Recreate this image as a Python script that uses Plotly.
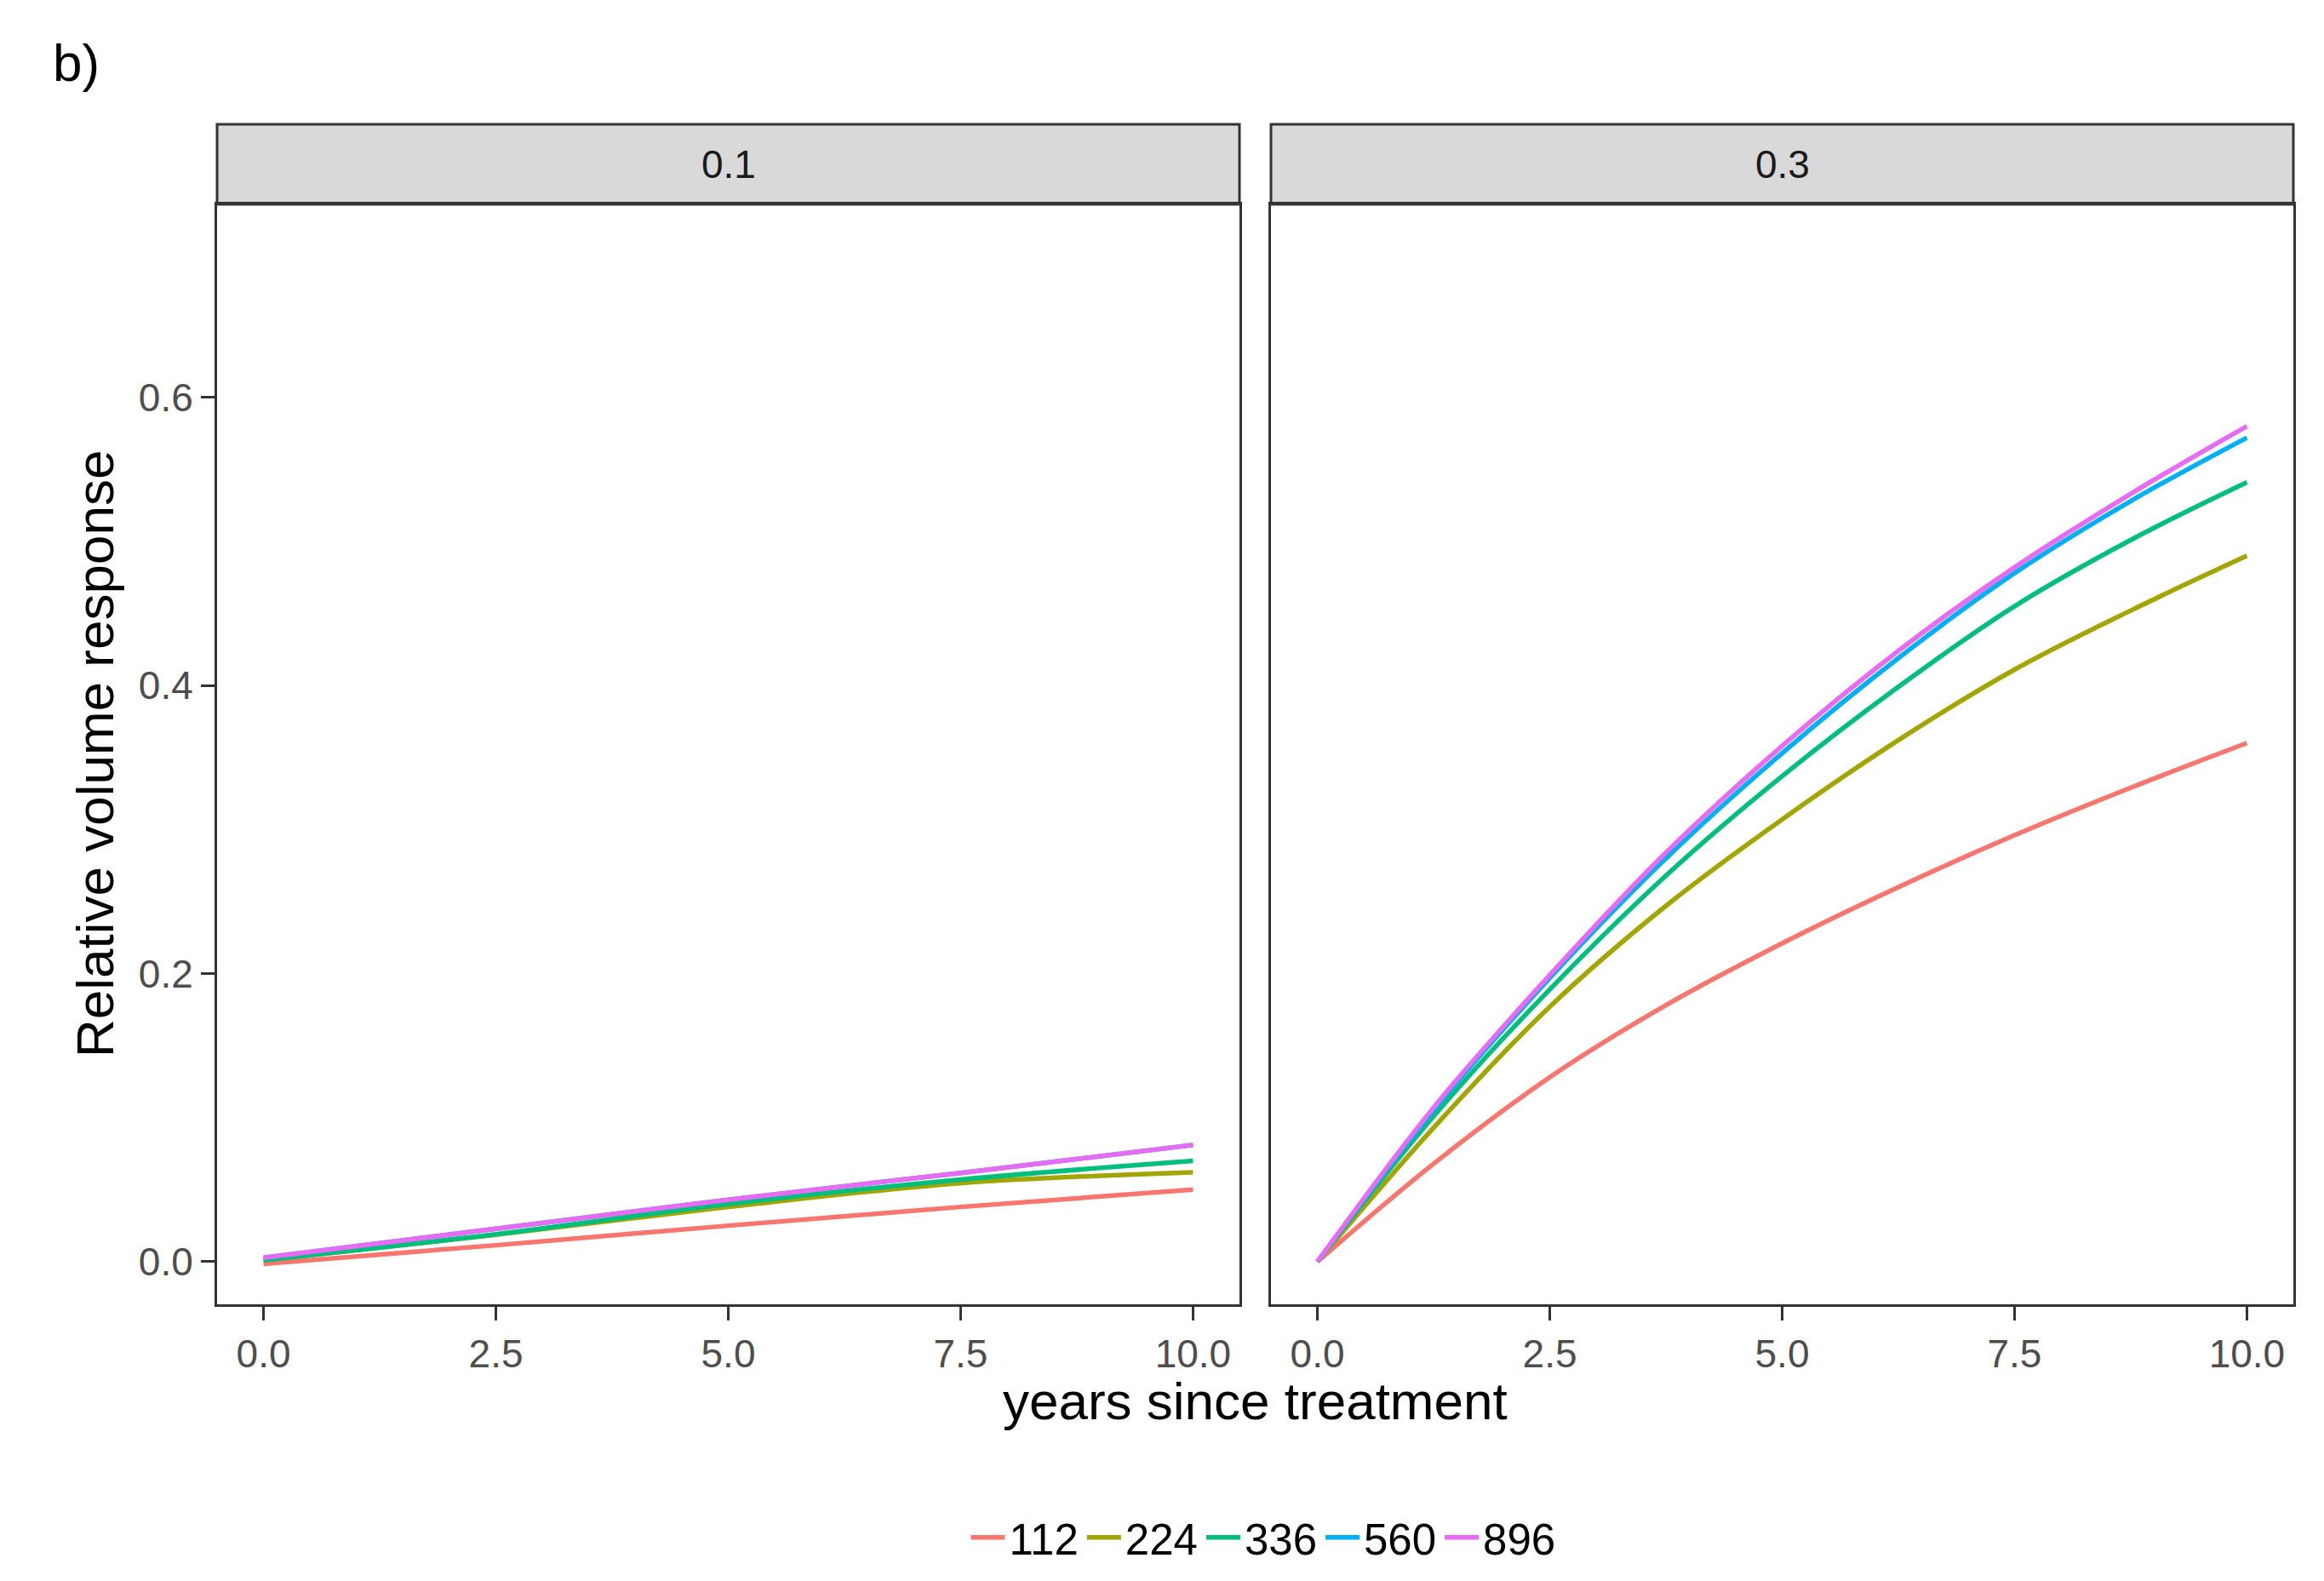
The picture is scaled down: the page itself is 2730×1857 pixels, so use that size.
import plotly.graph_objects as go

# ---------------- data ----------------
groups = ["112", "224", "336", "560", "896"]
colors = ["#F8766D", "#A3A500", "#00BF7D", "#00B0F6", "#E76BF3"]
facets = ["0.1", "0.3"]

years_01 = [0, 2.5, 5, 7.5, 10]
resp_01_112 = [-0.0015, 0.0114, 0.025, 0.038, 0.050]
resp_01_224 = [0.001, 0.0187, 0.038, 0.0545, 0.062]
resp_01_336 = [0.001, 0.019, 0.040, 0.057, 0.070]
resp_01_560 = [0.0027, 0.0228, 0.043, 0.0616, 0.081]
resp_01_896 = [0.0027, 0.0228, 0.043, 0.0616, 0.081]

years_03 = [0, 1.25, 2.5, 3.75, 5, 6.25, 7.5, 8.75, 10]
resp_03_112 = [0, 0.068, 0.128, 0.178, 0.221, 0.260, 0.296, 0.329, 0.360]
resp_03_224 = [0, 0.093, 0.177, 0.247, 0.307, 0.362, 0.411, 0.452, 0.490]
resp_03_336 = [0, 0.101, 0.189, 0.268, 0.337, 0.399, 0.455, 0.501, 0.541]
resp_03_560 = [0, 0.105, 0.197, 0.280, 0.353, 0.419, 0.478, 0.528, 0.572]
resp_03_896 = [0, 0.107, 0.199, 0.284, 0.358, 0.424, 0.482, 0.533, 0.580]

x_ticks = [0, 2.5, 5, 7.5, 10]
y_ticks = [0.0, 0.2, 0.4, 0.6]

series_01 = [resp_01_112, resp_01_224, resp_01_336, resp_01_560, resp_01_896]
series_03 = [resp_03_112, resp_03_224, resp_03_336, resp_03_560, resp_03_896]

# ---------------- figure ----------------
W, H = 2730, 1857
OFF = 8  # page body margin
FONT = "Liberation Sans, Arial, sans-serif"
DARK = "#333333"


def px(xp):
    return (xp - OFF) / W


def py(yp):
    return 1 - (yp - OFF) / H


fig = go.Figure()
for g, c, y1, y3 in zip(groups, colors, series_01, series_03):
    fig.add_trace(go.Scatter(x=years_01, y=y1, mode="lines", name=g,
                             legendgroup=g, showlegend=True,
                             line=dict(color=c, width=5.5, shape="spline"),
                             xaxis="x", yaxis="y"))
    fig.add_trace(go.Scatter(x=years_03, y=y3, mode="lines", name=g,
                             legendgroup=g, showlegend=False,
                             line=dict(color=c, width=5.5, shape="spline"),
                             xaxis="x2", yaxis="y2"))

xd1 = [px(255), px(1456)]
xd2 = [px(1493), px(2694)]
yd = [py(1532), py(240)]
strip_top = py(146)

xr = [-0.5, 10.5]
yr = [-0.0296, 0.734]

common_x = dict(range=xr, tickvals=x_ticks, tickformat=".1f", showgrid=False,
                zeroline=False, showline=True, mirror=True, linecolor=DARK,
                linewidth=3, ticks="outside", ticklen=16, tickwidth=3,
                tickcolor=DARK, tickfont=dict(family=FONT, size=46, color="#4D4D4D"))
common_y = dict(range=yr, tickvals=y_ticks, tickformat=".1f", showgrid=False,
                zeroline=False, showline=True, mirror=True, linecolor=DARK,
                linewidth=3)

fig.update_layout(
    width=W, height=H,
    margin=dict(l=0, r=0, t=0, b=0),
    paper_bgcolor="white", plot_bgcolor="white",
    xaxis=dict(domain=xd1, anchor="y", **common_x),
    xaxis2=dict(domain=xd2, anchor="y2", **common_x),
    yaxis=dict(domain=yd, anchor="x", ticks="outside", ticklen=16, tickwidth=3,
               tickcolor=DARK, tickfont=dict(family=FONT, size=46, color="#4D4D4D"),
               **common_y),
    yaxis2=dict(domain=yd, anchor="x2", showticklabels=False, ticks="", **common_y),
    legend=dict(orientation="h", x=px(1484), xanchor="center", y=py(1806),
                yanchor="middle", font=dict(family=FONT, size=51, color="black"),
                itemwidth=40, tracegroupgap=0, bgcolor="rgba(0,0,0,0)"),
    showlegend=True,
)

# facet strips
for dom, lab in zip([xd1, xd2], facets):
    fig.add_shape(type="rect", xref="paper", yref="paper",
                  x0=dom[0], x1=dom[1], y0=yd[1], y1=strip_top,
                  fillcolor="#D9D9D9", line=dict(color=DARK, width=3), layer="below")
    fig.add_annotation(xref="paper", yref="paper", x=(dom[0] + dom[1]) / 2,
                       y=(yd[1] + strip_top) / 2, text=lab, showarrow=False,
                       xanchor="center", yanchor="middle",
                       font=dict(family=FONT, size=46, color="#1A1A1A"))

# axis titles and panel tag
fig.add_annotation(xref="paper", yref="paper", x=(xd1[0] + xd2[1]) / 2,
                   y=py(1668), yanchor="bottom", xanchor="center",
                   text="years since treatment", showarrow=False, yshift=-14,
                   font=dict(family=FONT, size=62, color="black"))
fig.add_annotation(xref="paper", yref="paper", x=px(112), y=(yd[0] + yd[1]) / 2,
                   text="Relative volume response", textangle=-90, showarrow=False,
                   xanchor="center", yanchor="middle",
                   font=dict(family=FONT, size=62, color="black"))
fig.add_annotation(xref="paper", yref="paper", x=px(60), y=py(74),
                   text="b)", showarrow=False, xanchor="left", yanchor="middle",
                   font=dict(family=FONT, size=62, color="black"))

fig.write_html("out.html")
